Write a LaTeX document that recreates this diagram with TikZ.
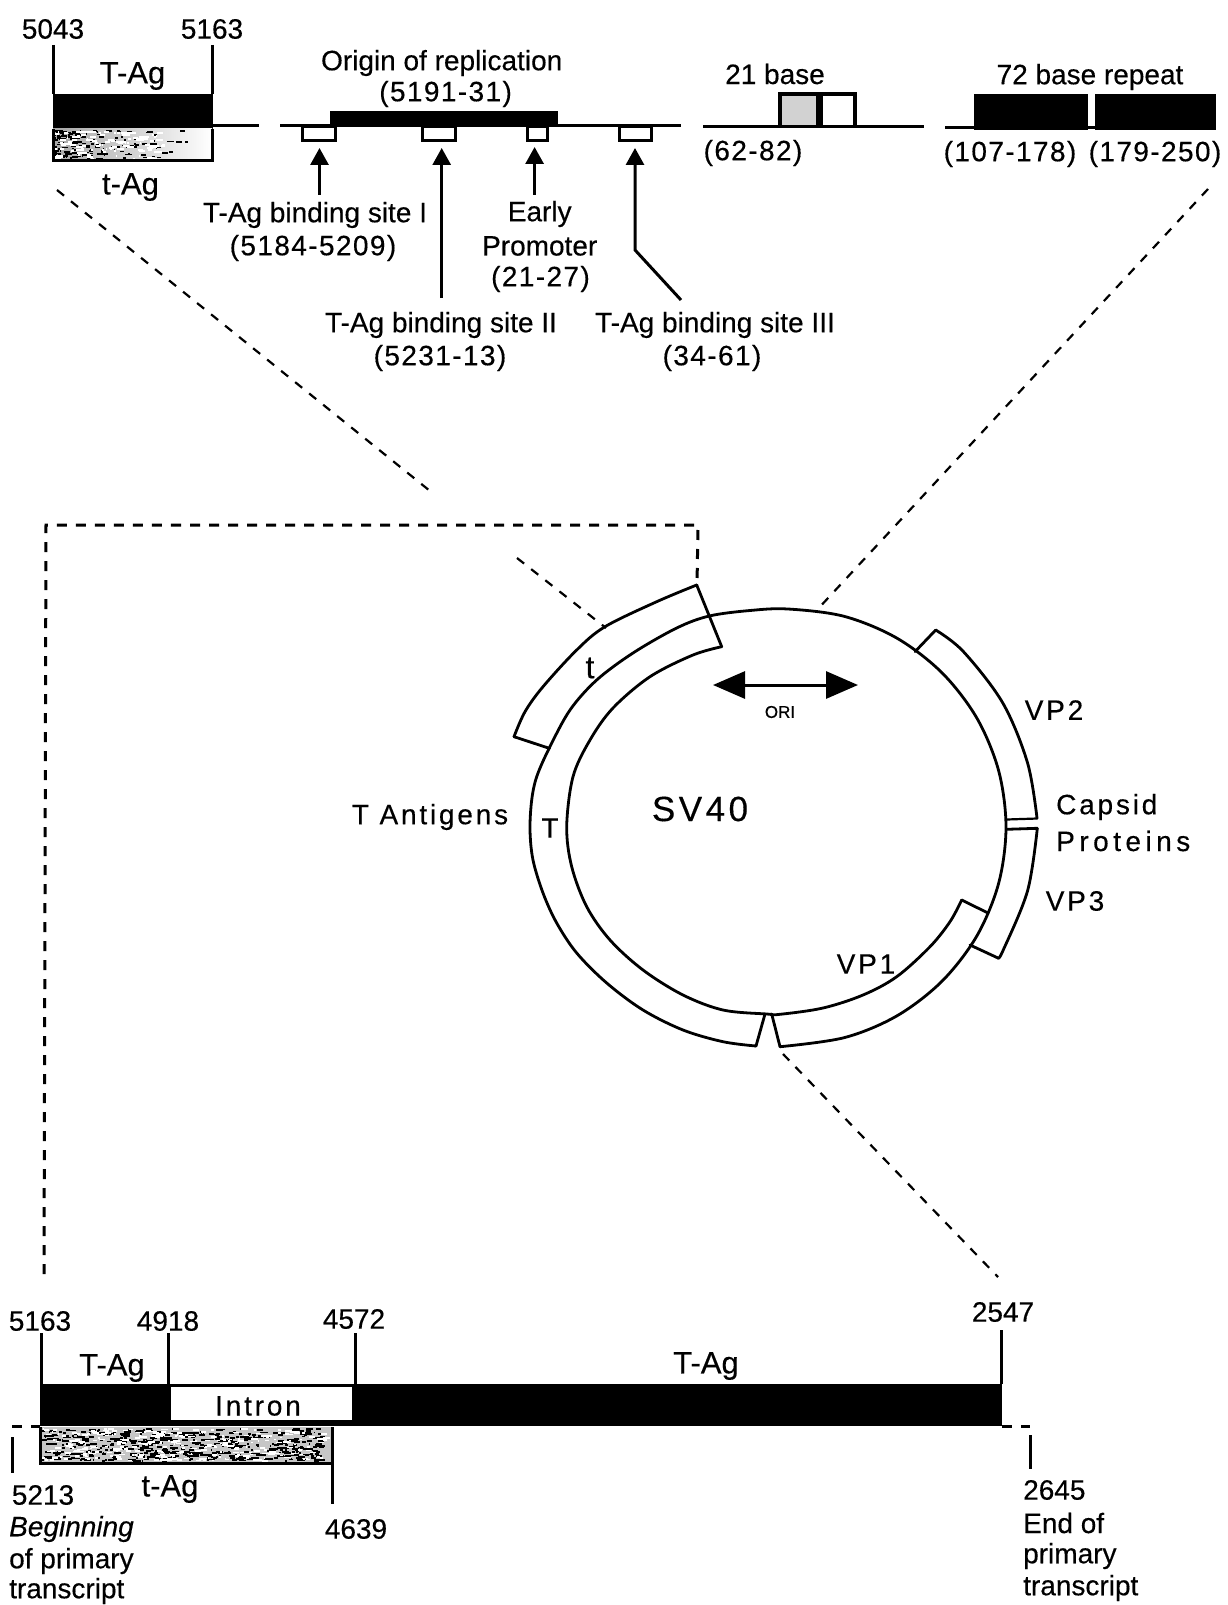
\documentclass[tikz,border=0pt]{standalone}
\usepackage{fontspec}
\setmainfont[FakeBold=0.35]{Liberation Sans}
\newfontfamily\spacedfont[LetterSpace=10,FakeBold=0.35]{Liberation Sans}
\newfontfamily\widerfont[LetterSpace=16,FakeBold=0.35]{Liberation Sans}
\newfontfamily\numfont[LetterSpace=5,FakeBold=0.35]{Liberation Sans}
\usetikzlibrary{arrows.meta}
\newcommand{\lblfont}{\fontsize{28}{28}\selectfont}
\newcommand{\widefont}{\spacedfont\fontsize{28}{28}\selectfont}
\tikzset{
  lab/.style={font=\lblfont,inner sep=0pt,anchor=center,yshift=-1pt},
  numlab/.style={lab,font=\numfont\lblfont},
  taglab/.style={lab,font=\fontsize{31}{31}\selectfont},
  widelab/.style={font=\widefont,inner sep=0pt,anchor=center,yshift=-2pt},
  leftlab/.style={lab,anchor=west},
  solidbar/.style={fill=black,draw=none,inner sep=0pt},
  site/.style={draw=black,line width=3pt,fill=white,inner sep=0pt},
  baseline/.style={line width=3pt},
  tickline/.style={line width=3pt},
  siteline/.style={line width=3pt,-{Triangle[length=17pt,width=18pt]}},
  thindash/.style={line width=2.2pt,dash pattern=on 9pt off 9pt},
  boldash/.style={line width=3pt,dash pattern=on 10pt off 9pt},
  ring/.style={line width=2.8pt,line join=round,line cap=round},
}
\begin{document}
\begin{tikzpicture}[x=1pt,y=-1pt]
\useasboundingbox (0,0) rectangle (1227,1605);
\fill[white] (0,0) rectangle (1227,1605);
\pgfmathsetseed{11}
% === top left panel
\coordinate (tl1) at (53,45); \coordinate (tl2) at (212,45);
\coordinate (tl1b) at (53,94); \coordinate (tl2b) at (212,94);
\draw[tickline] (tl1) -- (tl1b);
\draw[tickline] (tl2) -- (tl2b);
\node[solidbar,minimum width=160pt,minimum height=35pt] (tblack) at (132.5,111.5) {};
\shade[left color=gray!70,right color=white] (53,129) rectangle (212,161);
\foreach \i in {1,...,170}{
  \pgfmathsetmacro{\xx}{53+155*rnd*rnd}
  \pgfmathsetmacro{\yy}{130+29*rnd}
  \pgfmathsetmacro{\ww}{1+6*rnd}
  \fill[black] (\xx,\yy) rectangle ++(\ww,1.6);
}
\foreach \i in {1,...,110}{
  \pgfmathsetmacro{\xx}{53+110*rnd}
  \pgfmathsetmacro{\yy}{130+29*rnd}
  \pgfmathsetmacro{\ww}{1+7*rnd}
  \fill[white] (\xx,\yy) rectangle ++(\ww,2);
}
\draw[line width=3pt] (53,129) -- (53,161) -- (212,161) -- (212,129);
\coordinate (l1a) at (212,126); \coordinate (l1b) at (259,126);
\draw[baseline] (l1a) -- (l1b);
\node[lab] (n5043) at (53,28) {5043};
\node[lab] (n5163) at (212,28) {5163};
\node[taglab] (ntag) at (132.5,75) {T-Ag};
\node[taglab] (nsag) at (130.5,186) {t-Ag};
% === origin panel
\coordinate (l2a) at (280,126); \coordinate (l2b) at (681,126);
\draw[baseline] (l2a) -- (l2b);
\node[solidbar,minimum width=227.5pt,minimum height=16pt] (oribar) at (444,119) {};
\node[site,minimum width=33pt,minimum height=14pt] (b1) at (319,134) {};
\node[site,minimum width=33pt,minimum height=14pt] (b2) at (438.5,134) {};
\node[site,minimum width=20pt,minimum height=14pt] (b3) at (537.5,134) {};
\node[site,minimum width=32pt,minimum height=14pt] (b4) at (635,134) {};
\coordinate (a1s) at (319.5,195); \coordinate (a1e) at (319.5,148);
\coordinate (a2s) at (441.7,298); \coordinate (a2e) at (441.7,148);
\coordinate (a3s) at (534.6,195); \coordinate (a3e) at (534.6,147);
\coordinate (a4s) at (681,300); \coordinate (a4m) at (635,250); \coordinate (a4e) at (635,148);
\draw[siteline] (a1s) -- (a1e);
\draw[siteline] (a2s) -- (a2e);
\draw[siteline] (a3s) -- (a3e);
\draw[siteline] (a4s) -- (a4m) -- (a4e);
\node[lab] (n1) at (441.7,62) {Origin of replication};
\node[numlab] (n2) at (445.6,93) {(5191-31)};
\node[lab] (n3) at (315,214) {T-Ag binding site I};
\node[numlab] (n4) at (313,247) {(5184-5209)};
\node[lab] (n5) at (539.7,213) {Early};
\node[lab] (n6) at (539.7,245) {Promoter};
\node[numlab] (n7) at (540.5,278) {(21-27)};
\node[lab] (n8) at (441,324) {T-Ag binding site II};
\node[numlab] (n9) at (440,357) {(5231-13)};
\node[lab] (n10) at (715,324) {T-Ag binding site III};
\node[numlab] (n11) at (712,357) {(34-61)};
% === 21 base
\coordinate (l3a) at (703,127); \coordinate (l3b) at (924,127);
\draw[baseline] (l3a) -- (l3b);
\fill[gray!35] (781,95) rectangle (817,125);
\draw[line width=3.5pt] (780,127) -- (780,94) -- (855,94) -- (855,127);
\draw[line width=7pt] (819,94) -- (819,127);
\node[lab] (n12) at (775,73) {21 base};
\node[numlab] (n13) at (753,152) {(62-82)};
% === 72 base
\coordinate (l4a) at (945,128); \coordinate (l4b) at (1216,128);
\draw[baseline] (l4a) -- (l4b);
\node[solidbar,minimum width=114pt,minimum height=36pt] (r1) at (1031,112) {};
\node[solidbar,minimum width=121pt,minimum height=36pt] (r2) at (1155.5,112) {};
\node[lab] (n14) at (1090,76) {72 base repeat};
\node[numlab] (n15) at (1010,153) {(107-178)};
\node[numlab] (n16) at (1155,153) {(179-250)};
% === zoom guide lines
\coordinate (d1a) at (57,190); \coordinate (d1b) at (435,495);
\draw[thindash] (d1a) -- (d1b);
\coordinate (d2a) at (517,558); \coordinate (d2b) at (606,628);
\draw[thindash] (d2a) -- (d2b);
\coordinate (d3a) at (1208,189); \coordinate (d3b) at (816,611);
\draw[thindash] (d3a) -- (d3b);
\coordinate (d4a) at (783,1054); \coordinate (d4b) at (998,1277);
\draw[thindash] (d4a) -- (d4b);
\coordinate (d5a) at (44,1274); \coordinate (d5b) at (46,525);
\coordinate (d5c) at (698,525); \coordinate (d5d) at (697,585);
\draw[boldash] (d5a) -- (d5b) -- (d5c) -- (d5d);
% === plasmid
\draw[ring] plot[smooth,tension=0.55] coordinates {(756,1046) (723,1041.7) (683,1030) (643,1010) (606.7,983) (576.7,953) (556.7,923) (543,893) (533,860) (530,830) (531.7,800) (536.7,776.7) (549.3,748) (570,710) (596.7,680) (633,653) (676.7,628) (709.3,616) (750,610.5) (788,609) (844.4,616.4) (897,638.2) (942.1,672.9) (976.8,718) (998.6,770.6) (1006,827) (998.6,883.4) (976.8,936) (942.1,981.1) (897,1015.8) (844.4,1037.6) (780,1046.7)};
\draw[ring] plot[smooth,tension=0.55] coordinates {(721.7,646.7) (693,655) (650,676.7) (613,708) (590,740) (573,776.7) (566.7,826.7) (571.7,866.7) (586.7,906.7) (610,940) (643,970) (683,995) (723,1010) (766.7,1014) (780,1014.3) (823,1008) (863,995) (896.7,976.7) (930,946.7) (950,921.7) (961.7,900)};
\draw[ring] plot[smooth,tension=0.55] coordinates {(696.7,585) (656.7,601.7) (605,626.7) (576.7,650) (543,686.7) (525,711.7) (514,736.7)};
\draw[ring] (514,736.7) -- (549.3,748.3);
\draw[ring] (696.7,585) -- (721.7,646.7);
\draw[ring] (756,1046) -- (765,1014);
\draw[ring] (771.7,1014) -- (780,1046.7);
\draw[ring] (915,651.7) -- (935.7,630);
\draw[ring] plot[smooth,tension=0.55] coordinates {(935.7,630) (963.4,651.6) (1002.8,703) (1027.5,762.8) (1037,818)};
\draw[ring,line width=2.2pt] (1006.7,819.5) -- (1037.3,818.5);
\draw[ring] (1006.7,829.3) -- (1037.3,828.3);
\draw[ring] plot[smooth,tension=0.55] coordinates {(1037.3,828.3) (1027.5,891) (1002.8,951) (998,958)};
\draw[ring] (998,958) -- (970,945);
\draw[ring] (961.7,900) -- (988,913);
\coordinate (orie) at (713,685); \coordinate (oriw) at (858,685);
\draw[line width=3pt,{Triangle[length=32pt,width=27pt]}-{Triangle[length=32pt,width=27pt]}] (orie) -- (oriw);
\node[font=\fontsize{17}{17}\selectfont,inner sep=0pt] (nori) at (780,712) {ORI};
\node[lab,font=\fontsize{32}{32}\selectfont] (nt) at (590,667) {t};
\node[lab] (nT) at (550,827) {T};
\node[font=\spacedfont\fontsize{35}{35}\selectfont,inner sep=0pt] (nsv) at (700,809) {SV40};
\node[widelab] (nvp2) at (1054,708) {VP2};
\node[widelab] (nvp3) at (1075,899) {VP3};
\node[widelab] (nvp1) at (866,962) {VP1};
\node[widelab,anchor=west] (ncap) at (1056,805) {Capsid};
\node[widelab,anchor=west,font=\widerfont\fontsize{28}{28}\selectfont] (npro) at (1056,839) {Proteins};
\node[widelab] (nant) at (430,815) {T Antigens};
% === bottom panel
\coordinate (t1) at (41,1333); \coordinate (t1b) at (41,1384);
\coordinate (t2) at (168,1333); \coordinate (t2b) at (168,1384);
\coordinate (t3) at (355,1333); \coordinate (t3b) at (355,1384);
\coordinate (t4) at (1001,1330); \coordinate (t4b) at (1001,1384);
\draw[tickline] (t1) -- (t1b);
\draw[tickline] (t2) -- (t2b);
\draw[tickline] (t3) -- (t3b);
\draw[tickline] (t4) -- (t4b);
\node[solidbar,minimum width=962pt,minimum height=42pt] (bbar) at (521,1405) {};
\node[fill=white,inner sep=0pt,minimum width=181pt,minimum height=33pt] (intron) at (261.5,1403.5) {};
\node[widelab] (nintron) at (258,1404) {Intron};
\fill[gray!45] (40,1427) rectangle (331,1462);
\foreach \i in {1,...,520}{
  \pgfmathsetmacro{\xx}{41+282*rnd}
  \pgfmathsetmacro{\yy}{1428+32*rnd}
  \pgfmathsetmacro{\ww}{1+7*rnd}
  \fill[black] (\xx,\yy) rectangle ++(\ww,1.8);
}
\foreach \i in {1,...,300}{
  \pgfmathsetmacro{\xx}{41+282*rnd}
  \pgfmathsetmacro{\yy}{1428+32*rnd}
  \pgfmathsetmacro{\ww}{1+6*rnd}
  \fill[white] (\xx,\yy) rectangle ++(\ww,1.6);
}
\draw[line width=3pt] (40,1427) -- (40,1463) -- (332,1463);
\coordinate (t5) at (332,1427); \coordinate (t5b) at (332,1504);
\draw[tickline] (t5) -- (t5b);
\coordinate (dl1) at (12,1426); \coordinate (dl2) at (40,1426);
\coordinate (dr1) at (1002,1426); \coordinate (dr2) at (1030,1426);
\draw[boldash] (dl1) -- (dl2);
\draw[boldash] (dr1) -- (dr2);
\coordinate (tk1) at (12,1437); \coordinate (tk1b) at (12,1473);
\coordinate (tk2) at (1030,1435); \coordinate (tk2b) at (1030,1469);
\draw[tickline] (tk1) -- (tk1b);
\draw[tickline] (tk2) -- (tk2b);
\node[lab] (b5163) at (40,1320) {5163};
\node[lab] (b4918) at (168,1320) {4918};
\node[lab] (b4572) at (354,1318) {4572};
\node[lab] (b2547) at (1003,1311) {2547};
\node[taglab] (btag1) at (112,1367) {T-Ag};
\node[taglab] (btag2) at (706,1365) {T-Ag};
\node[taglab] (bsag) at (170,1488) {t-Ag};
\node[lab] (b5213) at (43,1494) {5213};
\node[lab] (b4639) at (356,1528) {4639};
\node[leftlab,font=\lblfont\itshape] (bbeg) at (9,1528) {Beginning};
\node[leftlab] (bof) at (9,1560) {of primary};
\node[leftlab] (btr) at (9,1590) {transcript};
\node[leftlab] (b2645) at (1023,1489) {2645};
\node[leftlab] (bend) at (1023,1522) {End of};
\node[leftlab] (bpri) at (1023,1555) {primary};
\node[leftlab] (btr2) at (1023,1587) {transcript};
\end{tikzpicture}
\end{document}
